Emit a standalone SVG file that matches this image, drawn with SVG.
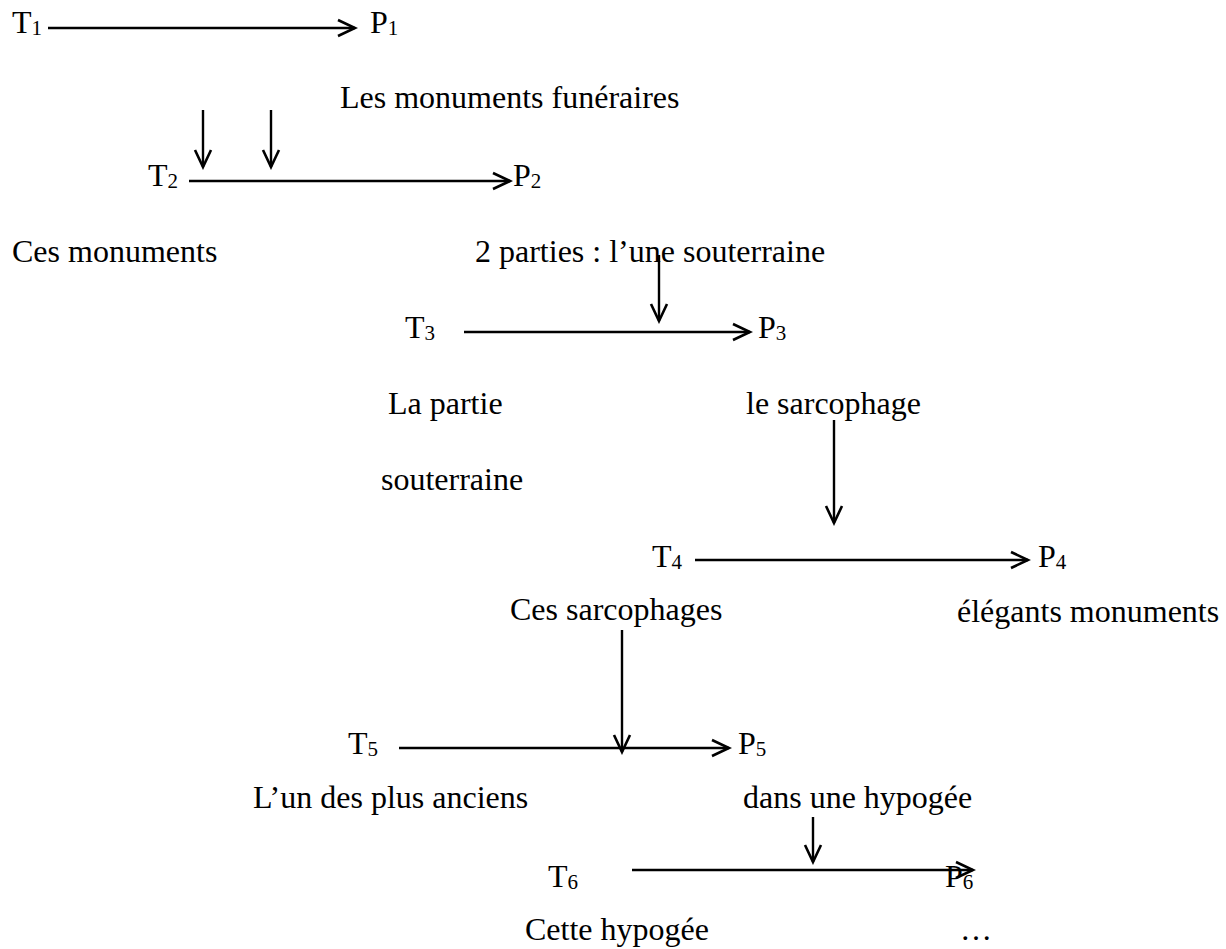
<svg xmlns="http://www.w3.org/2000/svg" width="1226" height="949" viewBox="0 0 1226 949">
<style>
text{font-family:"Liberation Serif","Times New Roman",serif;font-size:32px;fill:#000}
.sub{font-size:21px}
.c{stroke:#000;stroke-width:2.4;fill:none;marker-end:url(#ah)}
</style>
<defs>
<marker id="ah" markerUnits="userSpaceOnUse" markerWidth="22" markerHeight="20" viewBox="-19 -10 21 20" refX="0" refY="0" orient="auto">
<path d="M-17,-8 L0,0 L-17,8" fill="none" stroke="#000" stroke-width="2.6"/>
</marker>
</defs>
<rect width="1226" height="949" fill="#fff"/>
<g id="connectors">
<line class="c" x1="48" y1="28" x2="355" y2="28"/>
<line class="c" x1="203" y1="110" x2="203" y2="167"/>
<line class="c" x1="271" y1="110" x2="271" y2="167"/>
<line class="c" x1="189" y1="181" x2="510" y2="181"/>
<line class="c" x1="659" y1="255" x2="659" y2="321"/>
<line class="c" x1="464" y1="332" x2="750" y2="332"/>
<line class="c" x1="834" y1="420" x2="834" y2="523"/>
<line class="c" x1="695" y1="560" x2="1028" y2="560"/>
<line class="c" x1="622" y1="630" x2="622" y2="752"/>
<line class="c" x1="399" y1="748" x2="729" y2="748"/>
<line class="c" x1="813" y1="817" x2="813" y2="862"/>
<line class="c" x1="632" y1="870" x2="973" y2="870"/>
</g>
<g id="T1"><text x="12" y="33">T<tspan class="sub" dy="2">1</tspan></text></g>
<g id="P1"><text x="370" y="33">P<tspan class="sub" dy="2">1</tspan></text></g>
<g id="lbl-monuments-funeraires"><text x="340" y="108">Les monuments funéraires</text></g>
<g id="T2"><text x="148" y="186">T<tspan class="sub" dy="2">2</tspan></text></g>
<g id="P2"><text x="513" y="186">P<tspan class="sub" dy="2">2</tspan></text></g>
<g id="lbl-ces-monuments"><text x="12" y="262">Ces monuments</text></g>
<g id="lbl-2-parties"><text x="475" y="262">2 parties : l’une souterraine</text></g>
<g id="T3"><text x="405" y="338">T<tspan class="sub" dy="2">3</tspan></text></g>
<g id="P3"><text x="758" y="338">P<tspan class="sub" dy="2">3</tspan></text></g>
<g id="lbl-la-partie"><text x="388" y="414">La partie</text><text x="381" y="490">souterraine</text></g>
<g id="lbl-sarcophage"><text x="746" y="414">le sarcophage</text></g>
<g id="T4"><text x="652" y="567">T<tspan class="sub" dy="2">4</tspan></text></g>
<g id="P4"><text x="1038" y="567">P<tspan class="sub" dy="2">4</tspan></text></g>
<g id="lbl-ces-sarcophages"><text x="510" y="620">Ces sarcophages</text></g>
<g id="lbl-elegants"><text x="957" y="622">élégants monuments</text></g>
<g id="T5"><text x="348" y="754">T<tspan class="sub" dy="2">5</tspan></text></g>
<g id="P5"><text x="738" y="754">P<tspan class="sub" dy="2">5</tspan></text></g>
<g id="lbl-lun"><text x="253" y="808">L’un des plus anciens</text></g>
<g id="lbl-dans"><text x="743" y="808">dans une hypogée</text></g>
<g id="T6"><text x="548" y="887">T<tspan class="sub" dy="2">6</tspan></text></g>
<g id="P6"><text x="945" y="887">P<tspan class="sub" dy="2">6</tspan></text></g>
<g id="lbl-cette"><text x="525" y="940">Cette hypogée</text></g>
<g id="lbl-ellipsis"><text x="960" y="940">…</text></g>
</svg>
